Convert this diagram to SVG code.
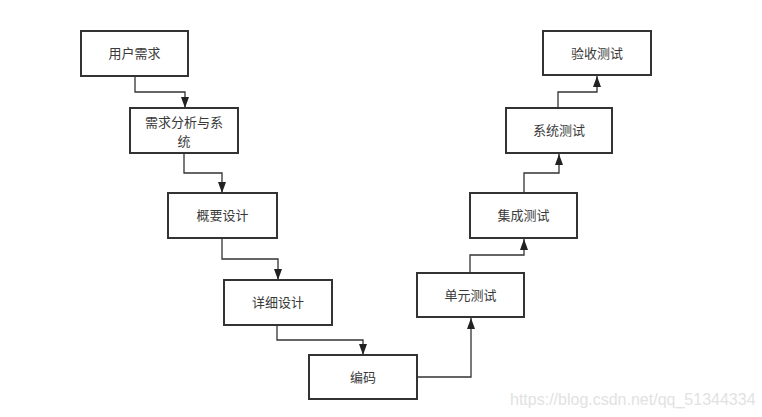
<svg xmlns="http://www.w3.org/2000/svg" width="762" height="417" viewBox="0 0 762 417">
<defs>
<marker id="arr" viewBox="0 0 11 8" refX="11" refY="4" markerWidth="11" markerHeight="8" markerUnits="userSpaceOnUse" orient="auto">
<path d="M0,0 L11,4 L0,8 z" fill="#222"/>
</marker>
<style>
.box{fill:#fff;stroke:#333;stroke-width:2}
.lbl{font-family:"Noto Sans CJK SC","Liberation Sans",sans-serif;font-size:13px;fill:#3a3a3a;text-anchor:middle}
.con{fill:none;stroke:#333;stroke-width:1.3;marker-end:url(#arr)}
.wm{font-family:"Liberation Sans",Arial,sans-serif;font-size:16px;fill:#e2e2e2}
</style>
</defs>
<rect width="762" height="417" fill="#fff"/>
<g id="connectors">
<path class="con" d="M135,76 V92 H185 V108"/>
<path class="con" d="M184,153 V173 H222 V193"/>
<path class="con" d="M222,238 V259 H278 V280"/>
<path class="con" d="M277,325 V340 H363 V355"/>
<path class="con" d="M417,377 H471 V318"/>
<path class="con" d="M470,273 V255 H524 V239"/>
<path class="con" d="M524,193 V173 H559 V154"/>
<path class="con" d="M558,108 V92 H597 V76"/>
</g>
<g id="n1"><rect class="box" x="81" y="31" width="107" height="45"/><text class="lbl" x="134.5" y="58">用户需求</text></g>
<g id="n2"><rect class="box" x="130" y="108" width="108" height="45"/><text class="lbl" x="184" y="127">需求分析与系</text><text class="lbl" x="184" y="146">统</text></g>
<g id="n3"><rect class="box" x="168" y="193" width="109" height="45"/><text class="lbl" x="222.5" y="220">概要设计</text></g>
<g id="n4"><rect class="box" x="224" y="280" width="108" height="45"/><text class="lbl" x="278" y="307">详细设计</text></g>
<g id="n5"><rect class="box" x="309" y="355" width="108" height="44"/><text class="lbl" x="363" y="382">编码</text></g>
<g id="n6"><rect class="box" x="417" y="273" width="107" height="44"/><text class="lbl" x="470.5" y="300">单元测试</text></g>
<g id="n7"><rect class="box" x="470" y="193" width="107" height="45"/><text class="lbl" x="523.5" y="220">集成测试</text></g>
<g id="n8"><rect class="box" x="506" y="108" width="106" height="45"/><text class="lbl" x="559" y="135">系统测试</text></g>
<g id="n9"><rect class="box" x="543" y="31" width="108" height="44"/><text class="lbl" x="597" y="58">验收测试</text></g>
<text class="wm" x="510" y="405">https://blog.csdn.net/qq_51344334</text>
</svg>
